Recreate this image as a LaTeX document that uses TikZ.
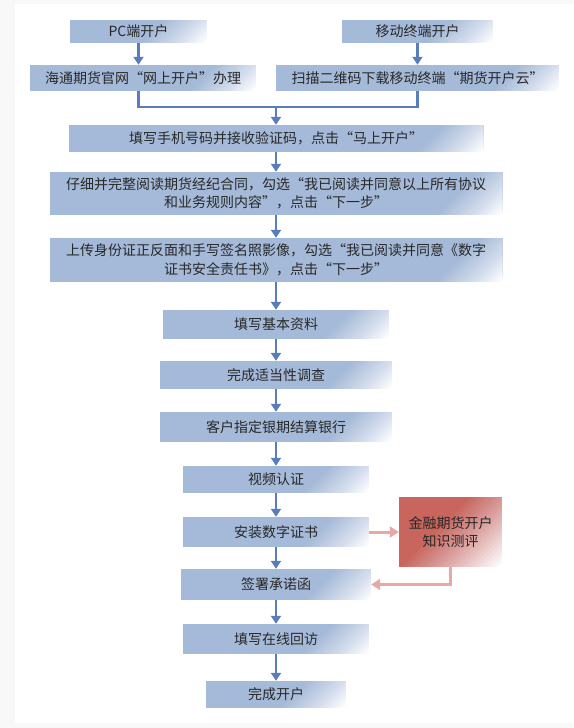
\documentclass[tikz,border=0pt]{standalone}
\usepackage{fontspec}
\setmainfont{Noto Sans CJK SC}
\usetikzlibrary{arrows.meta}
\definecolor{bbl}{RGB}{165,186,217}
\definecolor{arr}{RGB}{88,125,188}
\definecolor{rred}{RGB}{200,102,94}
\definecolor{pinkarr}{RGB}{233,168,166}
\definecolor{txt}{RGB}{40,40,40}
\definecolor{framegray}{RGB}{248,248,248}
\newcommand\cornerfade[1]{%
  \foreach \k in {1,...,20}{%
    \pgfmathsetmacro\fdT{#1*(1-(\k-1)/20)}%
    \pgfmathsetmacro\fdO{1/(21-\k)}%
    \fill[white, fill opacity=\fdO]
      ([xshift={-(\fdT+1)*1pt}, yshift=-1pt]path picture bounding box.south east) --
      ([xshift=1pt, yshift=-1pt]path picture bounding box.south east) --
      ([xshift=1pt, yshift={(\fdT+1)*1pt}]path picture bounding box.south east) -- cycle;
  }}
\begin{document}
\begin{tikzpicture}[x=1pt,y=-1pt,
  bx/.style={rectangle, inner sep=0pt, fill=bbl, text=txt, align=center,
    font=\fontsize{14pt}{18.5pt}\selectfont,
    path picture={\cornerfade{65}}},
  rbx/.style={rectangle, inner sep=0pt, fill=rred, text=txt, align=center,
    font=\fontsize{14pt}{18.5pt}\selectfont,
    path picture={\cornerfade{100}}},
  barr/.style={draw=arr, line width=2.5pt, -{Triangle[width=10pt,length=8pt]}},
  bline/.style={draw=arr, line width=2.5pt},
  rarr/.style={draw=pinkarr, line width=3pt, -{Triangle[width=11pt,length=9pt]}}
]
\useasboundingbox (0,0) rectangle (573,728);
\fill[framegray] (0,0) rectangle (573,728);
\fill[white] (15,4) rectangle (573,723);

\node[bx, minimum width=137pt, minimum height=23pt] (pc) at (138.5,31.5) {PC端开户};
\node[bx, minimum width=151pt, minimum height=23pt] (mob) at (417.5,31.5) {移动终端开户};
\node[bx, minimum width=226pt, minimum height=26pt] (ht) at (143,78) {海通期货官网“网上开户”办理};
\node[bx, minimum width=283pt, minimum height=26pt] (sm) at (417.5,78) {扫描二维码下载移动终端“期货开户云”};
\node[bx, minimum width=415pt, minimum height=27pt] (s1) at (276,138.5) {填写手机号码并接收验证码，点击“马上开户”};
\node[bx, minimum width=453pt, minimum height=43pt] (s2) at (276,193.5) {仔细并完整阅读期货经纪合同，勾选“我已阅读并同意以上所有协议\\和业务规则内容”，点击“下一步”};
\node[bx, minimum width=453pt, minimum height=44pt] (s3) at (276,260) {上传身份证正反面和手写签名照影像，勾选“我已阅读并同意《数字\\证书安全责任书》，点击“下一步”};
\node[bx, minimum width=226pt, minimum height=29pt] (s4) at (276,324.5) {填写基本资料};
\node[bx, minimum width=232pt, minimum height=28pt] (s5) at (276,375) {完成适当性调查};
\node[bx, minimum width=232pt, minimum height=30pt] (s6) at (276,427) {客户指定银期结算银行};
\node[bx, minimum width=186pt, minimum height=27pt] (s7) at (276,479.5) {视频认证};
\node[bx, minimum width=186pt, minimum height=30pt] (s8) at (276,532) {安装数字证书};
\node[rbx, minimum width=103pt, minimum height=70pt] (quiz) at (450.5,532) {金融期货开户\\知识测评};
\node[bx, minimum width=190pt, minimum height=31pt] (s9) at (276,584.5) {签署承诺函};
\node[bx, minimum width=186pt, minimum height=30pt] (s10) at (276,639) {填写在线回访};
\node[bx, minimum width=140pt, minimum height=27pt] (s11) at (276,694.5) {完成开户};

\coordinate (m0) at (276,107);
\draw[barr] (pc.south) -- (pc.south |- ht.north);
\draw[barr] (mob.south) -- (mob.south |- sm.north);
\draw[bline] (pc.south |- ht.south) -- (pc.south |- m0) -- (mob.south |- m0) -- (mob.south |- sm.south);
\draw[barr] (m0) -- (s1.north);
\draw[barr] (s1.south) -- (s2.north);
\draw[barr] (s2.south) -- (s3.north);
\draw[barr] (s3.south) -- (s4.north);
\draw[barr] (s4.south) -- (s5.north);
\draw[barr] (s5.south) -- (s6.north);
\draw[barr] (s6.south) -- (s7.north);
\draw[barr] (s7.south) -- (s8.north);
\draw[barr] (s8.south) -- (s9.north);
\draw[barr] (s9.south) -- (s10.north);
\draw[barr] (s10.south) -- (s11.north);
\draw[rarr] (s8.east) -- (quiz.west);
\draw[rarr] (quiz.south) -- (quiz.south |- s9.east) -- (s9.east);
\end{tikzpicture}
\end{document}
